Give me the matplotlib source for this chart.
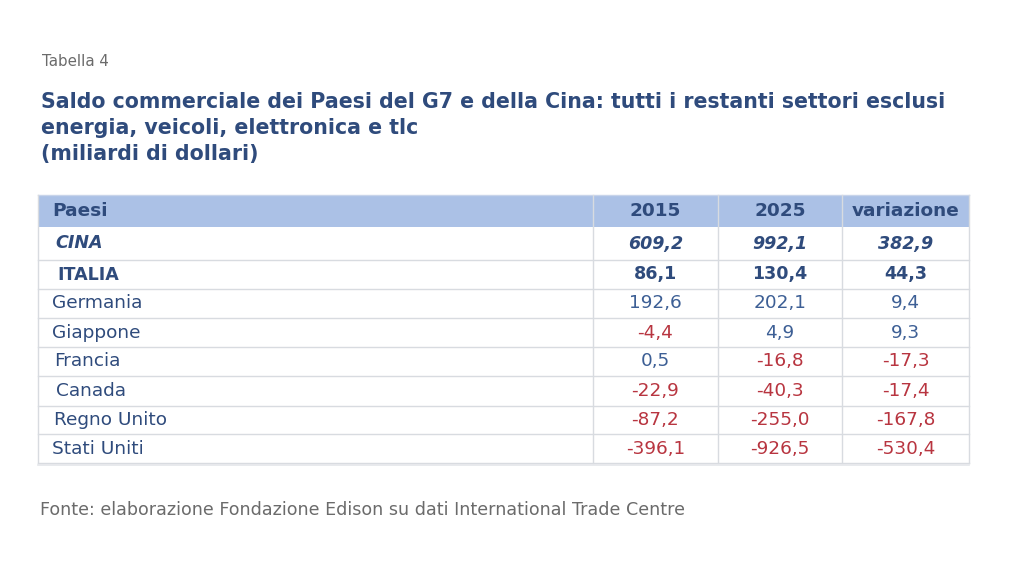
import matplotlib
matplotlib.use("Agg")
import matplotlib.pyplot as plt
from matplotlib.patches import Rectangle

plt.rcParams['font.family'] = ['DejaVu Sans']

label_tab = "Tabella 4"
title_lines = ["Saldo commerciale dei Paesi del G7 e della Cina: tutti i restanti settori esclusi",
               "energia, veicoli, elettronica e tlc",
               "(miliardi di dollari)"]
source = "Fonte: elaborazione Fondazione Edison su dati International Trade Centre"
headers = ["Paesi", "2015", "2025", "variazione"]
countries = ["CINA", "ITALIA", "Germania", "Giappone", "Francia", "Canada", "Regno Unito", "Stati Uniti"]
v2015 = [609.2, 86.1, 192.6, -4.4, 0.5, -22.9, -87.2, -396.1]
v2025 = [992.1, 130.4, 202.1, 4.9, -16.8, -40.3, -255.0, -926.5]
var = [382.9, 44.3, 9.4, 9.3, -17.3, -17.4, -167.8, -530.4]

NAVY = "#2f4b7c"
BLUE = "#3d5f95"
RED = "#b83540"
GRAY = "#6b6b6b"
LINE = "#d8dbe0"
HEADER_BG = "#abc1e6"

fig = plt.figure(figsize=(10.24, 5.76), dpi=100)
ax = fig.add_axes([0, 0, 1, 1])
ax.set_xlim(0, 1024)
ax.set_ylim(576, 0)
ax.axis("off")

ax.text(42, 62, label_tab, fontsize=10.8, color=GRAY, va="center", ha="left")
for i, t in enumerate(title_lines):
    ax.text(41, 102 + i * 26, t, fontsize=14.8, fontweight="bold", color=NAVY, va="center", ha="left")

x0, x1 = 38, 969
col_edges = [x0, 593, 718, 842, x1]
hdr_top, hdr_bot = 195, 227
row_lines = [227, 260, 289, 318, 347, 376, 406, 434, 463]

ax.add_patch(Rectangle((x0, hdr_top), x1 - x0, hdr_bot - hdr_top, facecolor=HEADER_BG, edgecolor="none"))
for y in row_lines[1:]:
    ax.plot([x0, x1], [y, y], color=LINE, lw=1.0)
ax.plot([x0, x1], [hdr_top, hdr_top], color="#c8d4ea", lw=1.0)
ax.plot([x0, x0], [hdr_top, row_lines[-1]], color=LINE, lw=1.0)
ax.plot([x1, x1], [hdr_top, row_lines[-1]], color=LINE, lw=1.0)
for xe in col_edges[1:-1]:
    ax.plot([xe, xe], [hdr_top, row_lines[-1]], color=LINE, lw=1.0)
ax.plot([x0, x1], [row_lines[-1] + 1.5, row_lines[-1] + 1.5], color="#e4e6ea", lw=1.2)

centers = [(col_edges[i] + col_edges[i + 1]) / 2 for i in range(1, 4)]
hy = (hdr_top + hdr_bot) / 2
ax.text(52, hy, headers[0], fontsize=13.3, fontweight="bold", color=NAVY, va="center", ha="left")
for c, h in zip(centers, headers[1:]):
    ax.text(c, hy, h, fontsize=13.3, fontweight="bold", color=NAVY, va="center", ha="center")

def fmt(v):
    return f"{v:.1f}".replace(".", ",")

label_x = [55, 57, 52, 52, 54, 56, 54, 52]
for i, name in enumerate(countries):
    yc = (row_lines[i] + row_lines[i + 1]) / 2
    weight = "bold" if i < 2 else "normal"
    style = "italic" if i == 0 else "normal"
    fs = 13.3 if i >= 2 else 12.6
    ax.text(label_x[i], yc, name, fontsize=fs, fontweight=weight, fontstyle=style,
            color=NAVY, va="center", ha="left")
    for c, v in zip(centers, (v2015[i], v2025[i], var[i])):
        col = RED if v < 0 else (NAVY if i < 2 else BLUE)
        ax.text(c, yc, fmt(v), fontsize=fs, fontweight=weight, fontstyle=style,
                color=col, va="center", ha="center")

ax.text(40, 510, source, fontsize=12.6, color=GRAY, va="center", ha="left")

fig.savefig("out.png", dpi=100)
